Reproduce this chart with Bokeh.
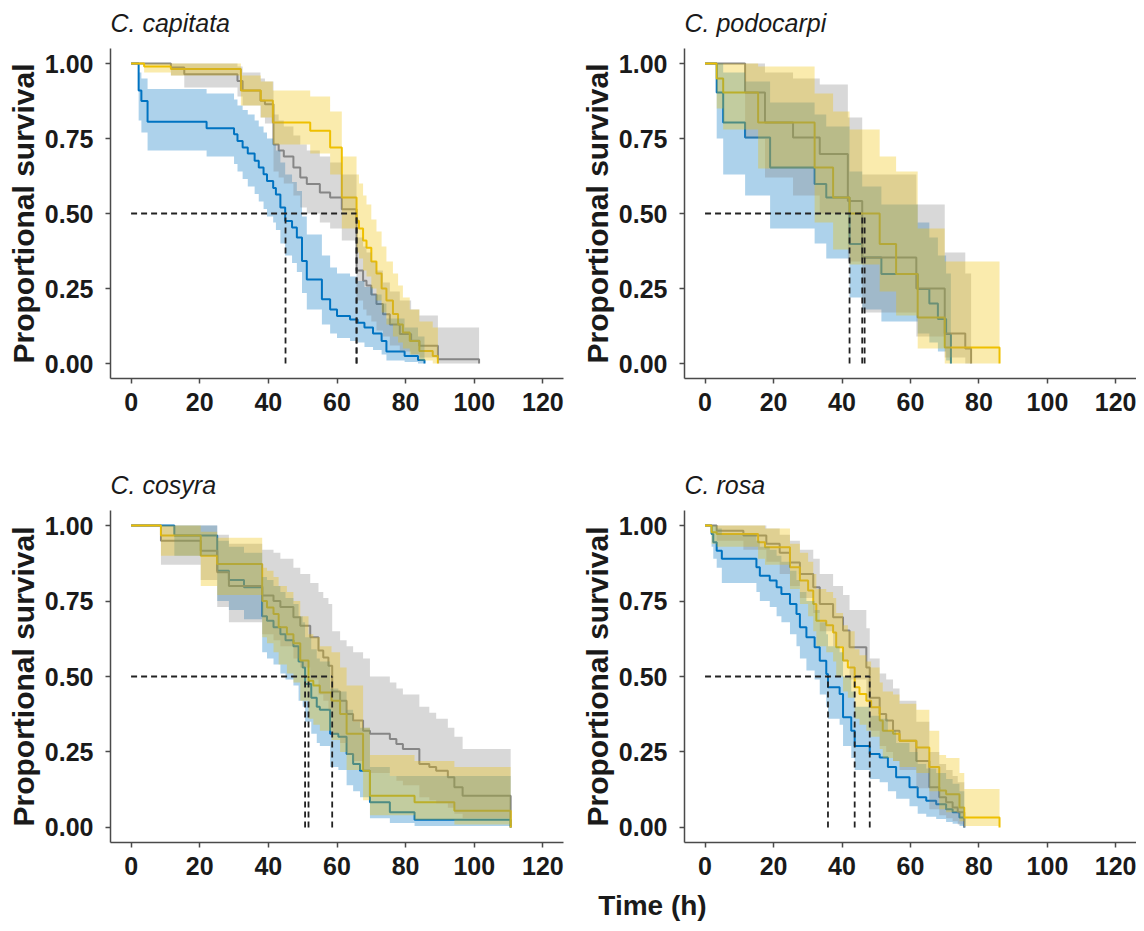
from bokeh.plotting import figure
from bokeh.layouts import column, row
from bokeh.models import Range1d, FixedTicker, Label
from bokeh.embed import file_html
from bokeh.resources import INLINE

# ---------------- data ----------------
species = ["C. capitata", "C. podocarpi", "C. cosyra", "C. rosa"]
x_ticks = [0, 20, 40, 60, 80, 100, 120]
y_ticks = [0.0, 0.25, 0.5, 0.75, 1.0]

# C. capitata
cap_blue_t = [0, 2.2, 3.0, 4.8, 22, 30, 31, 32.5, 34, 36, 37.2, 38.6, 39.6, 41.4, 42.2, 43.5, 44.9, 46.9, 48.3, 49.8, 51.2, 55.6, 58, 60, 63.8, 66, 68, 70.5, 73, 74.4, 79.7, 83.6, 85.5]
cap_blue_s = [1, .91, .875, .806, .784, .764, .742, .72, .70, .676, .653, .631, .608, .585, .563, .52, .475, .453, .42, .342, .28, .214, .18, .158, .147, .136, .12, .10, .075, .04, .025, .012, 0]
cap_blue_lo = [1, .81, .77, .71, .69, .665, .64, .615, .59, .565, .54, .515, .49, .47, .445, .40, .36, .335, .305, .235, .18, .13, .10, .085, .075, .07, .055, .045, .03, .01, .005, 0, 0]
cap_blue_hi = [1, .97, .95, .915, .90, .88, .86, .845, .83, .81, .79, .77, .75, .73, .71, .67, .63, .605, .575, .49, .43, .36, .32, .30, .29, .275, .255, .23, .20, .15, .12, .09, 0]
cap_gray_t = [0, 11.6, 15.5, 31, 32.5, 37.7, 39, 41.5, 43, 44.5, 47.3, 49.3, 51.2, 55, 58, 61.4, 65.7, 67.6, 68.6, 70, 71.5, 73.4, 75.4, 78.3, 81.6, 84, 89.4, 101.4]
cap_gray_s = [1, .987, .964, .942, .91, .876, .864, .73, .71, .69, .653, .62, .598, .57, .553, .514, .31, .276, .26, .23, .198, .164, .13, .098, .076, .059, .014, 0]
cap_gray_lo = [1, .96, .92, .89, .86, .82, .80, .64, .62, .60, .56, .52, .50, .47, .45, .41, .21, .18, .16, .14, .11, .09, .06, .04, .03, .02, 0, 0]
cap_gray_hi = [1, 1, 1, .99, .97, .95, .94, .83, .81, .79, .76, .73, .71, .69, .67, .63, .42, .39, .37, .34, .31, .27, .24, .21, .18, .16, .12, 0]
cap_gold_t = [0, 3.8, 11.6, 32, 37.8, 41.3, 52.2, 58, 61.4, 65.7, 66.4, 67.6, 68.6, 70, 71.5, 73, 74.4, 76.3, 77.8, 79.2, 81.2, 84, 87.9, 89.4]
cap_gold_s = [1, .99, .982, .91, .877, .803, .776, .72, .553, .476, .45, .41, .386, .34, .30, .25, .21, .165, .13, .103, .075, .042, .025, 0]
cap_gold_lo = [1, .97, .96, .86, .82, .73, .70, .63, .45, .37, .35, .31, .29, .25, .21, .17, .13, .09, .07, .05, .03, .01, 0, 0]
cap_gold_hi = [1, 1, 1, .96, .94, .91, .89, .84, .69, .63, .60, .56, .53, .48, .44, .39, .34, .30, .26, .22, .18, .14, .12, 0]
cap_median = [45, 65.7, 65.7]

# C. podocarpi
pod_blue_t = [0, 3.4, 5.3, 11.7, 19, 32, 35.4, 42.2, 45.9, 51.5, 62.1, 65.5, 68, 70.4, 71.8]
pod_blue_s = [1, .903, .803, .753, .653, .598, .553, .398, .353, .298, .248, .20, .148, .098, 0]
pod_blue_lo = [1, .75, .63, .56, .45, .40, .35, .22, .18, .14, .10, .07, .04, .01, 0]
pod_blue_hi = [1, 1, .97, .94, .87, .83, .79, .64, .59, .53, .47, .42, .36, .30, 0]
pod_gray_t = [0, 11.7, 17.5, 25.7, 33.5, 41.7, 45.9, 61.7, 70, 76, 77.7]
pod_gray_s = [1, .903, .803, .753, .698, .542, .353, .25, .10, .05, 0]
pod_gray_lo = [1, .75, .62, .56, .50, .34, .17, .09, .02, 0, 0]
pod_gray_hi = [1, 1, .97, .95, .93, .82, .63, .53, .37, .30, 0]
pod_gold_t = [0, 3.4, 5.3, 15.5, 32, 37.4, 42.2, 51, 55.8, 62.1, 70, 86]
pod_gold_s = [1, .95, .903, .803, .653, .553, .50, .398, .298, .153, .053, 0]
pod_gold_lo = [1, .85, .78, .65, .47, .38, .33, .24, .16, .05, 0, 0]
pod_gold_hi = [1, 1, 1, .99, .90, .84, .78, .69, .64, .45, .34, 0]
pod_median = [42.2, 45.9, 46.6]

# C. cosyra
cos_blue_t = [0, 12.6, 25.1, 28.5, 32.9, 38.2, 39.6, 41.5, 43.5, 45, 47.3, 48.8, 50, 50.7, 52.5, 54.1, 55, 58, 60.4, 62.8, 64.7, 66.7, 69.6, 75.4, 82.6, 110.6]
cos_blue_s = [1, .967, .85, .82, .796, .70, .685, .663, .64, .62, .60, .55, .53, .475, .43, .40, .39, .31, .30, .243, .21, .188, .083, .05, .025, 0]
cos_blue_lo = [1, .90, .75, .72, .69, .58, .56, .54, .51, .49, .47, .42, .40, .35, .31, .28, .27, .20, .19, .14, .12, .10, .03, .015, .005, 0]
cos_blue_hi = [1, 1, .95, .93, .91, .83, .82, .80, .78, .76, .74, .70, .68, .63, .59, .56, .55, .46, .45, .39, .35, .33, .20, .17, .17, 0]
cos_gray_t = [0, 8.7, 20.3, 25.1, 28.5, 38.2, 41.5, 43.5, 47.3, 49.3, 52.2, 54.6, 56, 57.5, 58.6, 60.9, 62.8, 64.7, 67.6, 69.6, 75.4, 77.3, 79.2, 84, 86.9, 88.9, 92.3, 94.2, 96.6, 110.6]
cos_gray_s = [1, .95, .917, .845, .80, .768, .75, .73, .696, .668, .63, .586, .563, .536, .45, .42, .376, .354, .32, .31, .293, .276, .26, .21, .20, .188, .166, .133, .105, 0]
cos_gray_lo = [1, .87, .82, .73, .68, .64, .62, .60, .56, .53, .49, .44, .42, .39, .31, .28, .24, .22, .19, .18, .17, .155, .14, .10, .09, .08, .065, .045, .03, 0]
cos_gray_hi = [1, 1, 1, .97, .94, .92, .91, .89, .86, .84, .81, .78, .76, .74, .65, .62, .60, .58, .56, .50, .48, .46, .44, .40, .38, .36, .33, .30, .26, 0]
cos_gold_t = [0, 8.7, 20.3, 25.1, 38.2, 39.6, 41.5, 43, 45.4, 47.3, 49.3, 51.7, 53.1, 55, 58.4, 60.9, 62.8, 67.6, 69.6, 82.6, 94.2, 110.6]
cos_gold_s = [1, .967, .90, .873, .75, .729, .707, .663, .64, .61, .553, .486, .47, .447, .42, .376, .31, .188, .105, .083, .055, 0]
cos_gold_lo = [1, .90, .80, .77, .63, .61, .58, .54, .51, .48, .42, .36, .34, .32, .29, .25, .19, .09, .04, .025, .01, 0]
cos_gold_hi = [1, 1, .98, .96, .86, .85, .83, .80, .78, .75, .70, .64, .63, .60, .58, .53, .47, .33, .24, .22, .20, 0]
cos_median = [50.7, 58.6, 51.7]

# C. rosa
ros_blue_t = [0, 1.9, 2.4, 3.4, 4.9, 15, 16, 18.9, 20.9, 22.3, 24.8, 26.7, 27.7, 29.6, 32, 33.5, 35.4, 35.9, 39.3, 40.3, 42.7, 43.7, 48.1, 51, 53.4, 55.8, 59.7, 62.1, 64.6, 67.5, 70.4, 72.3, 74.3, 75.7]
ros_blue_s = [1, .972, .945, .917, .89, .862, .834, .818, .796, .773, .74, .707, .663, .63, .597, .552, .508, .464, .442, .365, .32, .27, .243, .232, .20, .166, .133, .10, .088, .077, .06, .05, .033, 0]
ros_blue_lo = [1, .93, .89, .86, .81, .78, .75, .73, .70, .68, .64, .60, .56, .52, .49, .44, .40, .36, .34, .27, .23, .19, .16, .15, .12, .095, .07, .045, .035, .028, .018, .012, .005, 0]
ros_blue_hi = [1, 1, 1, .99, .97, .95, .93, .92, .90, .88, .85, .82, .78, .75, .72, .68, .64, .60, .58, .50, .45, .40, .37, .36, .32, .28, .25, .21, .195, .18, .16, .145, .12, 0]
ros_gray_t = [0, 3.4, 11.2, 17.9, 21.8, 24.8, 27.7, 31.6, 33.5, 37.4, 40.3, 42.2, 47.1, 48.1, 51, 52.9, 54.9, 56.8, 61.7, 65.5, 68.4, 70.4, 72.3, 73.8, 75.7]
ros_gray_s = [1, .983, .967, .94, .91, .878, .84, .796, .74, .696, .652, .597, .53, .43, .376, .354, .32, .287, .22, .133, .10, .083, .066, .05, 0]
ros_gray_lo = [1, .95, .92, .88, .84, .80, .76, .71, .65, .60, .55, .49, .42, .32, .27, .25, .22, .19, .13, .06, .04, .03, .02, .01, 0]
ros_gray_hi = [1, 1, 1, .99, .97, .95, .92, .89, .84, .80, .77, .72, .66, .56, .51, .49, .46, .42, .35, .25, .21, .19, .17, .15, 0]
ros_gold_t = [0, 1.9, 3.4, 15.5, 17.5, 24.8, 27.7, 30.1, 31.6, 32.5, 35.4, 37.4, 38.3, 40.3, 41.7, 43.7, 45.1, 47.1, 48.5, 51, 51.9, 54.9, 56.8, 61.7, 65.5, 68.4, 70.4, 74.3, 75.7, 86]
ros_gold_s = [1, .978, .972, .945, .928, .862, .818, .785, .74, .685, .67, .646, .597, .553, .53, .464, .442, .42, .398, .354, .32, .31, .287, .265, .20, .122, .11, .066, .033, 0]
ros_gold_lo = [1, .94, .93, .89, .87, .79, .74, .70, .65, .60, .58, .55, .50, .45, .43, .36, .34, .32, .30, .26, .23, .22, .20, .18, .12, .06, .05, .02, .005, 0]
ros_gold_hi = [1, 1, 1, 1, .99, .94, .91, .88, .84, .79, .78, .76, .71, .67, .65, .59, .57, .55, .53, .48, .45, .44, .41, .39, .32, .24, .23, .18, .127, 0]
ros_median = [35.9, 48.1, 43.7]

# ---------------- style ----------------
FONT = "Liberation Sans"
BLUE, GRAY, GOLD = "#0073C2", "#868686", "#EFC000"
AXIS_COL = "#4a4a4a"


def expand(t, v):
    xs, ys = [], []
    for i in range(len(t) - 1):
        xs += [t[i], t[i + 1]]
        ys += [v[i], v[i]]
    return xs, ys


def strip(width, height):
    s = figure(width=width, height=height, x_range=Range1d(0, 1), y_range=Range1d(0, 1),
               output_backend="svg", toolbar_location=None,
               min_border_left=0, min_border_right=0, min_border_top=0, min_border_bottom=0)
    s.axis.visible = False
    s.grid.visible = False
    s.outline_line_color = None
    return s


def title_strip(title, width, height, left):
    s = strip(width, height)
    s.add_layout(Label(x=left, y=26, x_units="screen", y_units="screen", text=title,
                       text_font=FONT, text_font_style="italic", text_font_size="25px",
                       text_color="#1a1a1a", text_align="left", text_baseline="alphabetic"))
    return s


def panel(curves, medians, left, frame_w, right, frame_h, bottom):
    p = figure(width=left + frame_w + right, height=frame_h + bottom,
               x_range=Range1d(-6, 126), y_range=Range1d(-0.05, 1.05),
               output_backend="svg", toolbar_location=None,
               min_border_left=left, min_border_right=right,
               min_border_top=0, min_border_bottom=bottom)
    p.outline_line_color = None
    p.grid.visible = False
    p.background_fill_color = "white"
    p.border_fill_color = "white"

    for ax in (p.xaxis[0], p.yaxis[0]):
        ax.axis_line_color = AXIS_COL
        ax.axis_line_width = 1.5
        ax.major_tick_line_color = AXIS_COL
        ax.major_tick_line_width = 1.5
        ax.major_tick_out = 5
        ax.major_tick_in = 0
        ax.minor_tick_line_color = None
        ax.major_label_text_font = FONT
        ax.major_label_text_font_style = "bold"
        ax.major_label_text_font_size = "25px"
        ax.major_label_text_color = "#1a1a1a"
    p.xaxis.ticker = FixedTicker(ticks=x_ticks)
    p.xaxis.major_label_standoff = 9
    p.yaxis.ticker = FixedTicker(ticks=y_ticks)
    p.yaxis.major_label_overrides = {v: f"{v:.2f}" for v in y_ticks}
    p.yaxis.major_label_standoff = 12
    p.yaxis.axis_label = "Proportional survival"
    p.yaxis.axis_label_text_font = FONT
    p.yaxis.axis_label_text_font_style = "bold"
    p.yaxis.axis_label_text_font_size = "30px"
    p.yaxis.axis_label_text_color = "#1a1a1a"
    p.yaxis.axis_label_standoff = 2

    # survival step lines
    for (t, s, lo, hi), col in curves:
        p.step(t, s, mode="after", line_color=col, line_width=2)
    # confidence bands drawn over the lines
    for (t, s, lo, hi), col in curves:
        xs, ylo = expand(t, lo)
        _, yhi = expand(t, hi)
        p.varea(x=xs, y1=ylo, y2=yhi, fill_color=col, fill_alpha=0.32)
    # median lines
    p.segment(x0=[0], y0=[0.5], x1=[max(medians)], y1=[0.5],
              line_color="#222222", line_width=1.8, line_dash="6 4")
    p.segment(x0=medians, y0=[0] * len(medians), x1=medians, y1=[0.5] * len(medians),
              line_color="#222222", line_width=1.8, line_dash="6 4")
    return p


cap = [((cap_blue_t, cap_blue_s, cap_blue_lo, cap_blue_hi), BLUE),
       ((cap_gray_t, cap_gray_s, cap_gray_lo, cap_gray_hi), GRAY),
       ((cap_gold_t, cap_gold_s, cap_gold_lo, cap_gold_hi), GOLD)]
pod = [((pod_blue_t, pod_blue_s, pod_blue_lo, pod_blue_hi), BLUE),
       ((pod_gray_t, pod_gray_s, pod_gray_lo, pod_gray_hi), GRAY),
       ((pod_gold_t, pod_gold_s, pod_gold_lo, pod_gold_hi), GOLD)]
cos = [((cos_blue_t, cos_blue_s, cos_blue_lo, cos_blue_hi), BLUE),
       ((cos_gray_t, cos_gray_s, cos_gray_lo, cos_gray_hi), GRAY),
       ((cos_gold_t, cos_gold_s, cos_gold_lo, cos_gold_hi), GOLD)]
ros = [((ros_blue_t, ros_blue_s, ros_blue_lo, ros_blue_hi), BLUE),
       ((ros_gray_t, ros_gray_s, ros_gray_lo, ros_gray_hi), GRAY),
       ((ros_gold_t, ros_gold_s, ros_gold_lo, ros_gold_hi), GOLD)]

W_L, W_R = 576, 560
t1 = title_strip(species[0], W_L, 48, 110)
t2 = title_strip(species[1], W_R, 48, 108)
p1 = panel(cap, cap_median, 110, 453, 13, 330, 87)
p2 = panel(pod, pod_median, 108, 452, 0, 330, 87)
t3 = title_strip(species[2], W_L, 45, 110)
t4 = title_strip(species[3], W_R, 45, 108)
p3 = panel(cos, cos_median, 110, 453, 13, 332, 42)
p4 = panel(ros, ros_median, 108, 452, 0, 332, 42)

# shared x-axis title
px = strip(1136, 44)
px.add_layout(Label(x=652, y=23, x_units="screen", y_units="screen", text="Time (h)",
                    text_font=FONT, text_font_style="bold", text_font_size="28px",
                    text_color="#1a1a1a", text_align="center", text_baseline="middle"))

layout = column(row(t1, t2), row(p1, p2), row(t3, t4), row(p3, p4), px)
open("out.html", "w").write(file_html(layout, INLINE))
